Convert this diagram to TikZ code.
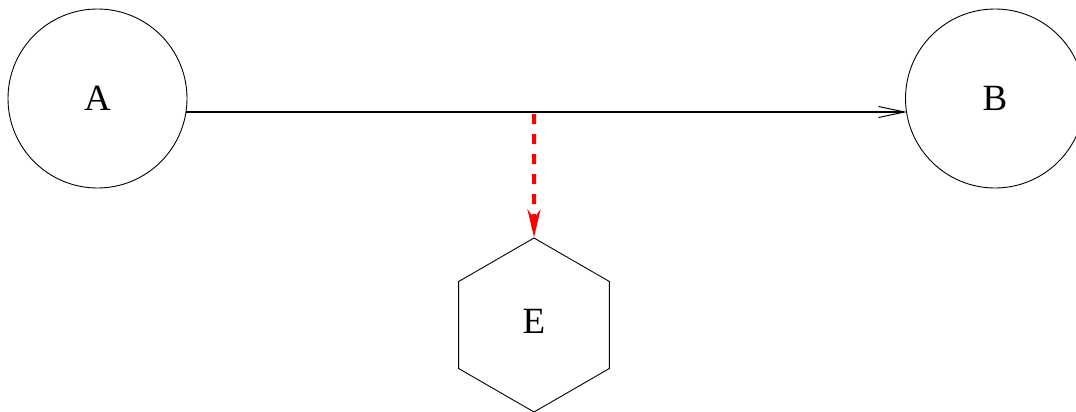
\documentclass[tikz,border=0pt]{standalone}
\usepackage{fontspec}
\setmainfont{Liberation Serif}
\usetikzlibrary{shapes.geometric,arrows.meta}
\begin{document}
\begin{tikzpicture}[x=1pt,y=-1pt,
  circ/.style={circle,draw,line width=0.9pt,minimum size=179pt,inner sep=0pt,font=\fontsize{37}{40}\selectfont},
  hexa/.style={regular polygon,regular polygon sides=6,shape border rotate=30,draw,line width=0.9pt,minimum size=174pt,inner sep=0pt,font=\fontsize{37}{40}\selectfont},
  link/.style={line width=1.3pt,-{Straight Barb[length=26pt,width=11pt,line width=1pt]}},
  redlink/.style={red,line width=4pt,dash pattern=on 10pt off 10pt,-{Stealth[length=28pt,width=13pt,inset=9pt]}}]
\useasboundingbox (0,0) rectangle (1076,412);
\node[circ] (A) at (97.5,98.5) {A};
\node[circ] (B) at (995,98.5) {B};
\node[hexa] (E) at (534,325) {\raisebox{8pt}{E}};
\coordinate (a1) at (185.5,112);
\coordinate (b1) at (907,112);
\draw[link] (a1) -- (b1);
\coordinate (m) at (534,114);
\draw[redlink] (m) -- (E.north);
\end{tikzpicture}
\end{document}
